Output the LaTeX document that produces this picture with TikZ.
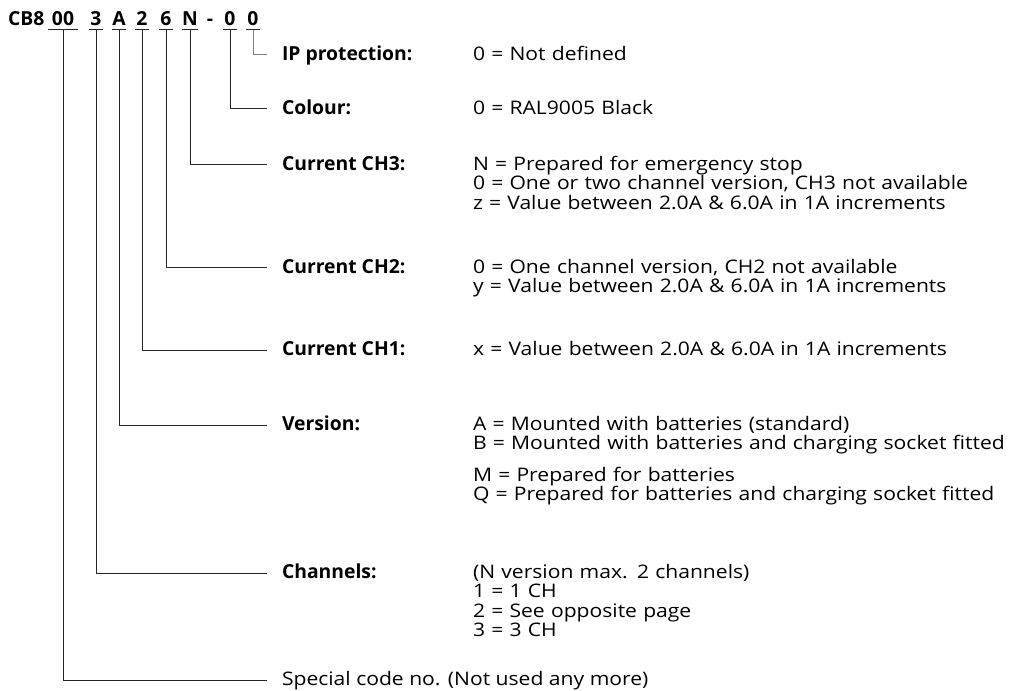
\documentclass[tikz,border=0pt]{standalone}
\usepackage{fontspec}
\setmainfont{Open Sans}[FakeStretch=1.13]
\newfontfamily\codefont{Open Sans}
\newcommand\dtsize{\fontsize{14}{14.6}\selectfont}

\tikzset{
  rule/.style={line width=0.75pt, black!85},
  codechar/.style={font=\codefont\fontsize{14.5}{14.6}\selectfont\bfseries, inner xsep=0pt, inner ysep=3pt, text depth=0pt, anchor=base},
  lbl/.style={font=\codefont\fontsize{14.5}{14.6}\selectfont\bfseries, anchor=west, inner xsep=11.25pt, inner ysep=0pt, text height=10pt, text depth=2pt},
  val/.style={font=\dtsize, anchor=base west, inner sep=0pt, text width=430pt, align=left}
}

\begin{document}
\begin{tikzpicture}[x=0.75pt, y=-0.75pt, every node/.style={outer sep=0pt}]
  \useasboundingbox (0,0) rectangle (1016,691);
  % type code
  \node[codechar, anchor=base west] (cb) at (8,26) {CB8};
  \node[codechar, minimum width=22.5pt] (d00) at (63,26) {00};
  \node[codechar, minimum width=10.5pt] (d3) at (96,26) {3};
  \node[codechar, minimum width=10.5pt] (dA) at (119,26) {A};
  \node[codechar, minimum width=10.5pt] (d2) at (142,26) {2};
  \node[codechar, minimum width=10.5pt] (d6) at (166,26) {6};
  \node[codechar, minimum width=10.5pt] (dN) at (190,26) {N};
  \node[codechar] (dash) at (210,26) {-};
  \node[codechar, minimum width=10.5pt] (d0a) at (230,26) {0};
  \node[codechar, minimum width=10.5pt] (d0b) at (253,26) {0};
  \foreach \d in {d00,d3,dA,d2,d6,dN,d0a,d0b}
    \draw[rule] (\d.south west) -- (\d.south east);

  % labels
  \node[lbl] (ip)  at (267,55)  {IP protection:};
  \node[lbl] (col) at (267,109) {Colour:};
  \node[lbl] (ch3) at (267,165) {Current CH3:};
  \node[lbl] (ch2) at (267,268) {Current CH2:};
  \node[lbl] (ch1) at (267,350) {Current CH1:};
  \node[lbl] (ver) at (267,425) {Version:};
  \node[lbl] (chn) at (267,573) {Channels:};
  \node[lbl, font=\dtsize] (spc) at (267,680) {Special code no. (Not used any more)};

  % values
  \coordinate (vcol) at (473,0);
  \node[val] (ipv)  at (vcol |- ip.base)  {0 = Not defined};
  \node[val] (colv) at (vcol |- col.base) {0 = RAL9005 Black};
  \node[val] (ch3v) at (vcol |- ch3.base) {N = Prepared for emergency stop\\
    0 = One or two channel version, CH3 not available\\
    z = Value between 2.0A \& 6.0A in 1A increments};
  \node[val] (ch2v) at (vcol |- ch2.base) {0 = One channel version, CH2 not available\\
    y = Value between 2.0A \& 6.0A in 1A increments};
  \node[val] (ch1v) at (vcol |- ch1.base) {x = Value between 2.0A \& 6.0A in 1A increments};
  \node[val] (verv) at (vcol |- ver.base) {A = Mounted with batteries (standard)\\
    B = Mounted with batteries and charging socket fitted\\[9pt]
    M = Prepared for batteries\\
    Q = Prepared for batteries and charging socket fitted};
  \node[val] (chnv) at (vcol |- chn.base) {(N version max. 2 channels)\\
    1 = 1 CH\\
    2 = See opposite page\\
    3 = 3 CH};

  % leaders
  \draw[rule] (d00.south) |- (spc.west);
  \draw[rule] (d3.south)  |- (chn.west);
  \draw[rule] (dA.south)  |- (ver.west);
  \draw[rule] (d2.south)  |- (ch1.west);
  \draw[rule] (d6.south)  |- (ch2.west);
  \draw[rule] (dN.south)  |- (ch3.west);
  \draw[rule] (d0a.south) |- (col.west);
  \draw[rule, black!50] (d0b.south) |- (ip.west);
\end{tikzpicture}
\end{document}
